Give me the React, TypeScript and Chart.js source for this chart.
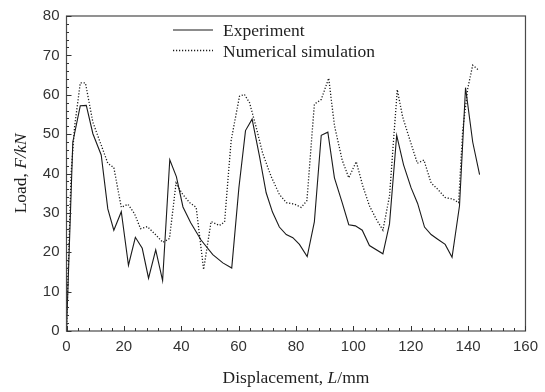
import React, { useEffect, useRef } from 'react';
import { Chart, registerables } from 'chart.js';

Chart.register(...registerables);

// ---- Data ----
const expX = [0, 2.2, 4.8, 6.9, 9.2, 12.1, 14.4, 16.5, 19.1, 21.6, 24.0, 26.4, 28.6, 31.1, 33.5, 36.0, 38.3, 40.6, 43.3, 46.9, 51.0, 54.5, 57.6, 60.1, 62.4, 64.7, 67.3, 69.6, 71.8, 74.2, 76.6, 78.9, 81.2, 83.9, 86.4, 88.8, 91.1, 93.4, 96.1, 98.4, 100.7, 103.1, 105.6, 110.3, 112.6, 115.1, 117.5, 120.1, 122.4, 124.8, 127.1, 129.4, 132.0, 134.4, 137.0, 139.1, 141.6, 144.0];
const expY = [0, 48.0, 57.2, 57.3, 50.1, 44.7, 31.0, 25.6, 30.3, 16.7, 23.8, 21.0, 13.4, 20.6, 12.8, 43.5, 39.2, 31.5, 27.5, 23.1, 19.4, 17.3, 16.0, 36.4, 50.9, 53.8, 44.3, 35.1, 30.2, 26.4, 24.5, 23.7, 22.0, 18.9, 27.7, 49.7, 50.5, 38.9, 32.6, 27.0, 26.7, 25.6, 21.7, 19.6, 27.2, 49.7, 42.2, 36.4, 32.4, 26.4, 24.5, 23.3, 22.0, 18.7, 31.8, 61.8, 48.0, 39.7];

const simX = [0, 1.6, 2.8, 4.8, 6.6, 9.2, 12.1, 14.4, 16.5, 19.1, 21.4, 23.7, 25.8, 28.2, 31.0, 33.6, 35.9, 38.2, 40.2, 42.9, 45.2, 47.8, 50.4, 53.3, 55.1, 57.4, 60.3, 62.0, 63.8, 66.1, 68.4, 71.3, 74.2, 76.6, 79.5, 81.8, 83.8, 86.4, 88.8, 91.4, 93.4, 96.1, 98.4, 101.0, 103.3, 105.6, 107.9, 110.3, 112.6, 115.3, 117.2, 120.1, 122.3, 124.6, 127.1, 129.4, 132.0, 134.7, 136.7, 138.1, 139.9, 141.6, 143.6];
const simY = [0, 40, 51.8, 63, 63, 53, 47.2, 42.6, 41.5, 31.4, 32.2, 29.8, 26.0, 26.5, 24.5, 22.5, 23.5, 37.6, 35.0, 32.6, 31.4, 15.6, 27.8, 26.8, 27.7, 48.4, 59.6, 60.1, 58.0, 51.8, 45.1, 39.3, 34.7, 32.6, 32.2, 31.4, 33.1, 57.6, 58.8, 64.2, 52.2, 43.4, 38.9, 43.0, 36.8, 31.8, 28.5, 25.6, 34.3, 61.3, 54.3, 47.6, 42.6, 43.4, 37.6, 36.0, 33.9, 33.5, 32.6, 50.9, 61.7, 67.5, 66.3];

const seriesLabels = ['Experiment', 'Numerical simulation'];
const xRange = [0, 160];
const yRange = [0, 80];
const xMajorStep = 20;
const xMinorStep = 4;
const yMajorStep = 10;
const yMinorStep = 2;

type Seg = { text: string; italic: boolean };
const xTitle: Seg[] = [
  { text: 'Displacement, ', italic: false },
  { text: 'L', italic: true },
  { text: '/mm', italic: false },
];
const yTitle: Seg[] = [
  { text: 'Load, ', italic: false },
  { text: 'F/kN', italic: true },
];

const SERIF = '"Liberation Serif", "Times New Roman", serif';
const SANS = '"Liberation Sans", Arial, sans-serif';
const TITLE_SIZE = 17.5;
const INK = '#1e1e1e';

function segFont(s: Seg) {
  return `${s.italic ? 'italic ' : ''}${TITLE_SIZE}px ${SERIF}`;
}

function drawSegs(ctx: CanvasRenderingContext2D, segs: Seg[], cx: number, cy: number) {
  let total = 0;
  const widths = segs.map((s) => {
    ctx.font = segFont(s);
    const w = ctx.measureText(s.text).width;
    total += w;
    return w;
  });
  let x = cx - total / 2;
  ctx.textAlign = 'left';
  ctx.textBaseline = 'middle';
  segs.forEach((s, i) => {
    ctx.font = segFont(s);
    ctx.fillText(s.text, x, cy);
    x += widths[i];
  });
}

const framePlugin = {
  id: 'frameTicks',
  afterDatasetsDraw(chart: any) {
    const { ctx, chartArea } = chart;
    const { left, right, top, bottom } = chartArea;
    const xs = chart.scales.x;
    const ys = chart.scales.y;
    ctx.save();
    ctx.strokeStyle = '#4a4a4a';
    ctx.lineWidth = 1.2;
    ctx.strokeRect(left, top, right - left, bottom - top);
    ctx.lineWidth = 1;
    ctx.strokeStyle = '#333';
    ctx.beginPath();
    for (let v = xRange[0]; v <= xRange[1]; v += xMinorStep) {
      const px = Math.round(xs.getPixelForValue(v)) + 0.5;
      const len = v % xMajorStep === 0 ? 5 : 3;
      ctx.moveTo(px, bottom);
      ctx.lineTo(px, bottom - len);
    }
    for (let v = yRange[0]; v <= yRange[1]; v += yMinorStep) {
      const py = Math.round(ys.getPixelForValue(v)) + 0.5;
      const len = v % yMajorStep === 0 ? 5 : 2.5;
      ctx.moveTo(left, py);
      ctx.lineTo(left + len, py);
    }
    ctx.stroke();

    // legend
    const lx0 = 173;
    const lx1 = 213;
    const tx = 223;
    const rows = [30, 50.5];
    chart.data.datasets.forEach((ds: any, i: number) => {
      const y = rows[i];
      ctx.save();
      ctx.strokeStyle = ds.borderColor;
      ctx.lineWidth = ds.borderWidth;
      ctx.setLineDash(ds.borderDash || []);
      ctx.beginPath();
      ctx.moveTo(lx0, y);
      ctx.lineTo(lx1, y);
      ctx.stroke();
      ctx.restore();
      ctx.fillStyle = INK;
      ctx.font = `${TITLE_SIZE}px ${SERIF}`;
      ctx.textAlign = 'left';
      ctx.textBaseline = 'alphabetic';
      ctx.fillText(ds.label, tx, y + 6);
    });

    // axis titles
    ctx.fillStyle = INK;
    drawSegs(ctx, xTitle, (left + right) / 2, 378);
    ctx.save();
    ctx.translate(21.5, (top + bottom) / 2);
    ctx.rotate(-Math.PI / 2);
    drawSegs(ctx, yTitle, 0, 0);
    ctx.restore();
    ctx.restore();
  },
};

export default function App() {
  const ref = useRef<HTMLCanvasElement | null>(null);
  useEffect(() => {
    if (!ref.current) return;
    const chart = new Chart(ref.current, {
      type: 'line',
      data: {
        datasets: [
          {
            label: seriesLabels[0],
            data: expX.map((x, i) => ({ x, y: expY[i] })),
            borderColor: '#1a1a1a',
            borderWidth: 1.1,
            pointRadius: 0,
            tension: 0,
            fill: false,
          },
          {
            label: seriesLabels[1],
            data: simX.map((x, i) => ({ x, y: simY[i] })),
            borderColor: '#1a1a1a',
            borderWidth: 1.3,
            borderDash: [1.2, 1.8],
            pointRadius: 0,
            tension: 0,
            fill: false,
          },
        ],
      },
      options: {
        animation: false,
        responsive: false,
        devicePixelRatio: 1,
        layout: { padding: { top: 9.5, right: 19.3, bottom: 0, left: 0 } },
        plugins: { legend: { display: false }, tooltip: { enabled: false } },
        scales: {
          x: {
            type: 'linear',
            min: xRange[0],
            max: xRange[1],
            grid: { display: false, drawTicks: false },
            border: { display: false },
            ticks: {
              stepSize: xMajorStep,
              padding: 7,
              color: '#333',
              font: { family: SANS, size: 15 },
              maxRotation: 0,
            },
            afterFit: (s: any) => {
              s.height = 61;
            },
          },
          y: {
            type: 'linear',
            min: yRange[0],
            max: yRange[1],
            grid: { display: false, drawTicks: false },
            border: { display: false },
            ticks: {
              stepSize: yMajorStep,
              padding: 7,
              color: '#333',
              font: { family: SANS, size: 15 },
            },
            afterFit: (s: any) => {
              s.width = 66.5;
            },
          },
        },
      },
      plugins: [framePlugin],
    });
    return () => chart.destroy();
  }, []);
  return (
    <div style={{ position: 'fixed', left: 0, top: 0, width: 545, height: 392, background: '#fff' }}>
      <canvas ref={ref} width={545} height={392} style={{ display: 'block' }} />
    </div>
  );
}
